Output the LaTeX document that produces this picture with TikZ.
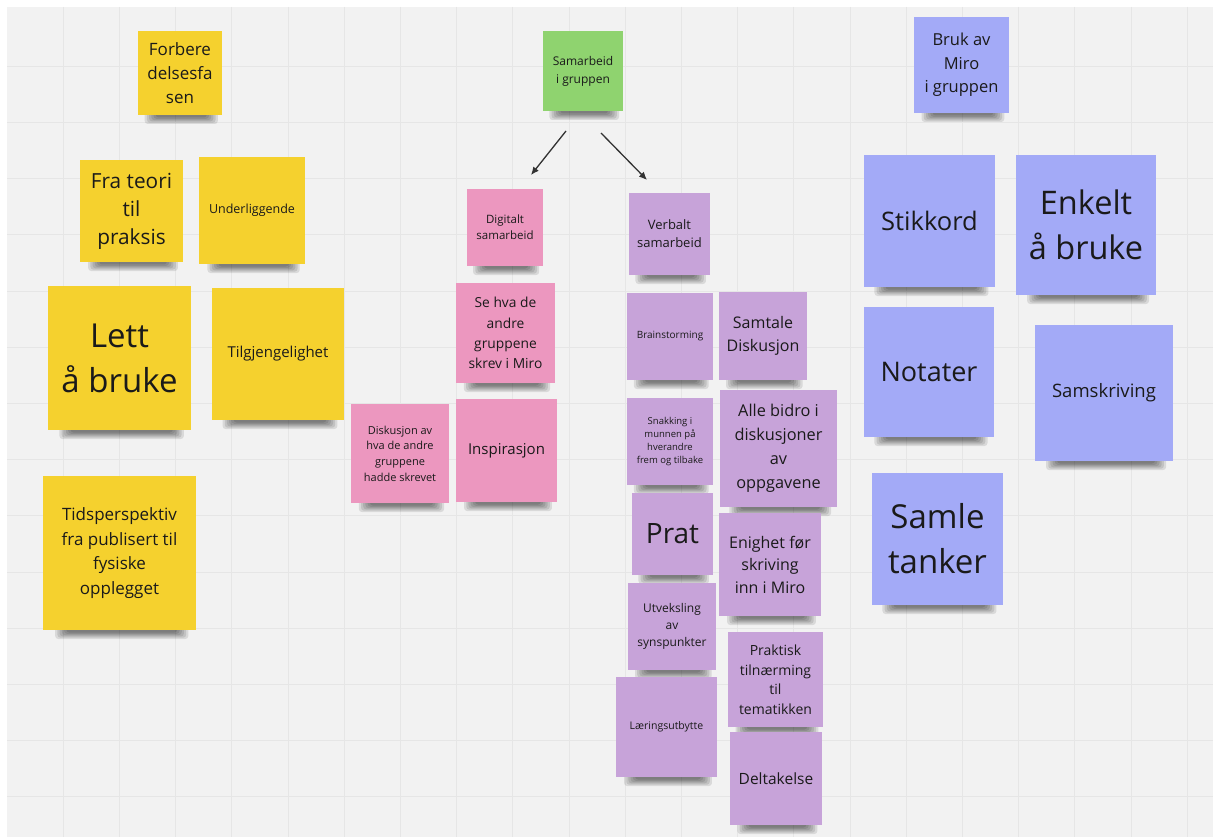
\documentclass[tikz,border=0pt]{standalone}
\usepackage{fontspec}
\setmainfont{Open Sans}
\usetikzlibrary{arrows.meta}
\definecolor{bgc}{HTML}{F2F2F2}
\definecolor{gridc}{HTML}{E6E6E6}
\definecolor{yel}{HTML}{F5D12E}
\definecolor{grn}{HTML}{8FD36F}
\definecolor{pnk}{HTML}{EC97BF}
\definecolor{prp}{HTML}{C7A3D9}
\definecolor{blu}{HTML}{A3AAF7}
\definecolor{txt}{HTML}{1A1A1A}
\definecolor{arr}{HTML}{333333}
\newcommand\fsz[2]{\fontsize{#1}{#2}\selectfont}
\tikzset{
  note/.style={rectangle, inner sep=0pt, outer sep=0pt, align=center, text=txt},
  shlayer/.style={fill=black, opacity=0.1, rounded corners=3pt},
  ynote/.style={note, fill=yel},
  gnote/.style={note, fill=grn},
  pnote/.style={note, fill=pnk},
  vnote/.style={note, fill=prp},
  bnote/.style={note, fill=blu},
  conn/.style={draw=arr, line width=1.3pt, -{Latex[length=8pt,width=7pt]}},
}
% #1 style, #2 name, #3 cx, #4 cy, #5 w, #6 h, #7 font, #8 text
\newcommand\stickynote[8]{%
  \foreach \i in {0,...,5}{%
    \path[shlayer] ({#3-0.42*#5+2.2*\i},{#4+#6/2-4}) rectangle ({#3+0.45*#5-2.2*\i},{#4+#6/2+9-1.3*\i});
  }%
  \node[#1, minimum width=#5, minimum height=#6, font=#7] (#2) at (#3,#4) {#8};
}
\begin{document}
\begin{tikzpicture}[x=1pt,y=-1pt]
\useasboundingbox (0,0) rectangle (1213,837);
\fill[white] (0,0) rectangle (1213,837);
\fill[bgc] (7,7) rectangle (1213,837);
\foreach \k in {1,...,21} { \draw[gridc, line width=1pt] ({7+56.2*\k},7) -- ({7+56.2*\k},837); }
\foreach \k in {1,...,14} { \draw[gridc, line width=1pt] (7,{10+56.2*\k}) -- (1213,{10+56.2*\k}); }

% yellow
\stickynote{ynote}{forb}{180}{73}{84}{84}{\fsz{17}{24}}{Forbere\\delsesfa\\sen}
\stickynote{ynote}{teori}{131.5}{211}{103}{102}{\fsz{20.8}{28}}{Fra teori\\til\\praksis}
\stickynote{ynote}{under}{252}{210.5}{106}{107}{\fsz{12.5}{16}}{Underliggende}
\stickynote{ynote}{lett}{119.5}{358}{143}{144}{\fsz{33}{45}}{Lett\\å bruke}
\stickynote{ynote}{tilg}{278}{354}{132}{132}{\fsz{15}{20}}{Tilgjengelighet}
\stickynote{ynote}{tids}{119.5}{553}{153}{154}{\fsz{17}{24.5}}{Tidsperspektiv\\fra publisert til\\fysiske\\opplegget}

% green
\stickynote{gnote}{samar}{583}{71}{80}{80}{\fsz{12}{18}}{Samarbeid\\i gruppen}

% pink
\stickynote{pnote}{dig}{505}{227.5}{76}{77}{\fsz{11.5}{16}}{Digitalt\\samarbeid}
\stickynote{pnote}{sehva}{505.5}{333}{99}{100}{\fsz{13.8}{20.3}}{Se hva de\\andre\\gruppene\\skrev i Miro}
\stickynote{pnote}{disk}{400}{453.5}{98}{99}{\fsz{11}{15.7}}{Diskusjon av\\hva de andre\\gruppene\\hadde skrevet}
\stickynote{pnote}{insp}{506.5}{450.5}{101}{103}{\fsz{15}{21}}{Inspirasjon}

% purple
\stickynote{vnote}{verb}{669.5}{234}{81}{82}{\fsz{13}{18}}{Verbalt\\samarbeid}
\stickynote{vnote}{brain}{670}{336.5}{86}{87}{\fsz{10}{13.3}}{Brainstorming}
\stickynote{vnote}{samt}{763}{336}{88}{88}{\fsz{16}{23}}{Samtale\\Diskusjon}
\stickynote{vnote}{snak}{670}{441.5}{86}{87}{\fsz{9.5}{13.3}}{Snakking i\\munnen på\\hverandre\\frem og tilbake}
\stickynote{vnote}{alle}{778.5}{448.5}{117}{117}{\fsz{16.3}{24}}{Alle bidro i\\diskusjoner\\av\\oppgavene}
\stickynote{vnote}{prat}{672.5}{534}{81}{82}{\fsz{28}{39}}{Prat}
\stickynote{vnote}{enig}{770}{564.5}{102}{103}{\fsz{16}{22.5}}{Enighet før\\skriving\\inn i Miro}
\stickynote{vnote}{utv}{672}{626.5}{88}{87}{\fsz{12}{17}}{Utveksling\\av\\synspunkter}
\stickynote{vnote}{prak}{775.5}{679.5}{95}{95}{\fsz{14}{19.5}}{Praktisk\\tilnærming\\til\\tematikken}
\stickynote{vnote}{laer}{666.5}{727}{101}{100}{\fsz{10.5}{15}}{Læringsutbytte}
\stickynote{vnote}{delt}{776}{778.5}{92}{93}{\fsz{15.5}{20}}{Deltakelse}

% blue
\stickynote{bnote}{bruk}{961.5}{65}{95}{96}{\fsz{16.5}{23.5}}{Bruk av\\Miro\\i gruppen}
\stickynote{bnote}{stik}{929.5}{221}{131}{132}{\fsz{25.5}{30}}{Stikkord}
\stickynote{bnote}{enk}{1086}{225}{140}{140}{\fsz{32.5}{45}}{Enkelt\\å bruke}
\stickynote{bnote}{notat}{929}{372}{130}{130}{\fsz{27}{32}}{Notater}
\stickynote{bnote}{samsk}{1104}{393}{138}{136}{\fsz{18.5}{24}}{Samskriving}
\stickynote{bnote}{samle}{937.5}{539}{131}{132}{\fsz{33}{45}}{Samle\\tanker}

% connectors
\coordinate (a1s) at ([xshift=-17pt,yshift=-20pt]samar.south);
\coordinate (a1e) at ([xshift=26pt,yshift=14pt]dig.north);
\coordinate (a2s) at ([xshift=18pt,yshift=-22pt]samar.south);
\coordinate (a2e) at ([xshift=-22.5pt,yshift=13pt]verb.north);
\draw[conn] (a1s) -- (a1e);
\draw[conn] (a2s) -- (a2e);
\end{tikzpicture}
\end{document}
